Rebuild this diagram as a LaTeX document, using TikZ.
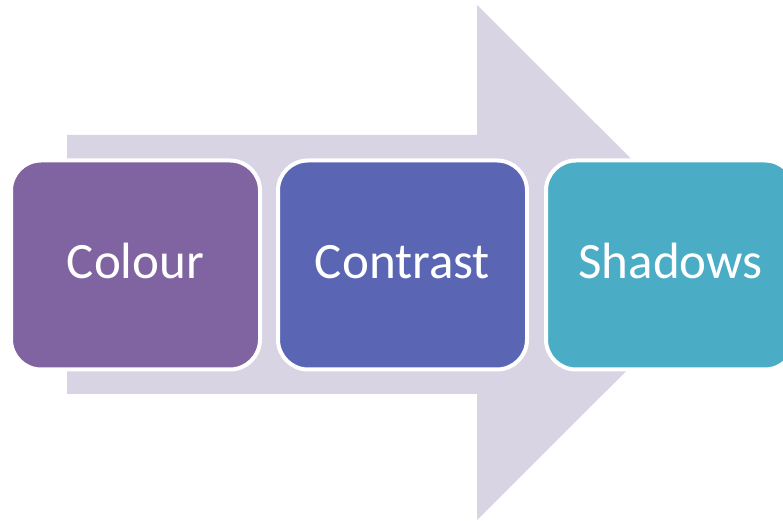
\documentclass[tikz,border=0pt]{standalone}
\usepackage{fontspec}
\setmainfont{Carlito}
\definecolor{arrowc}{HTML}{D8D4E4}
\definecolor{colA}{HTML}{8064A2}
\definecolor{colB}{HTML}{5A66B3}
\definecolor{colC}{HTML}{4BACC6}
\newcommand{\liftlabel}[1]{\raisebox{3.5pt}{#1}}
\tikzset{
  stepbox/.style={draw=white, line width=4pt, rounded corners=30pt,
    minimum width=249pt, minimum height=209pt, inner sep=0pt,
    text height=35pt, text depth=0pt,
    text=white, font=\fontsize{51}{60}\selectfont}
}
\begin{document}
\begin{tikzpicture}[x=1pt,y=1pt]
\useasboundingbox (0,0) rectangle (783,521);
\clip (0,0) rectangle (783,521);
\fill[arrowc] (67,386) -- (477,386) -- (477,516) -- (735,258.5) -- (477,1) -- (477,127) -- (67,127) -- cycle;
\node[stepbox, fill=colA] (colour) at (135.5,256) {\liftlabel{Colour}};
\node[stepbox, fill=colB] (contrast) at (402.5,256) {\liftlabel{Contrast}};
\node[stepbox, fill=colC] (shadows) at (670.5,256) {\liftlabel{Shadows}};
\end{tikzpicture}
\end{document}
